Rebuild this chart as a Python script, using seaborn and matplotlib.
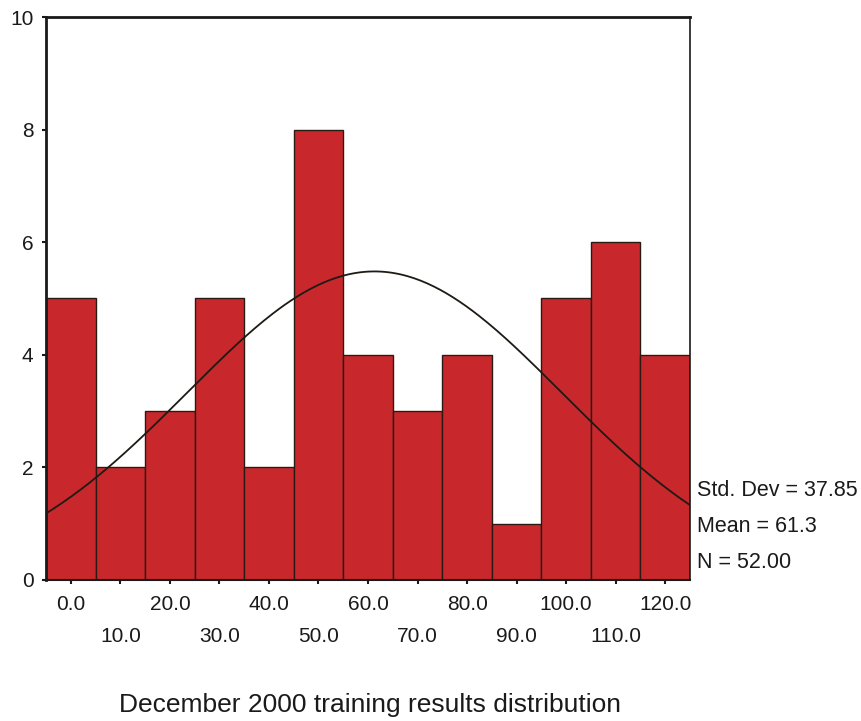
import numpy as np
import pandas as pd
import matplotlib
matplotlib.use("Agg")
import matplotlib.pyplot as plt
import seaborn as sns

# bin centres and counts
bin_centres = [0, 10, 20, 30, 40, 50, 60, 70, 80, 90, 100, 110, 120]
counts = [5, 2, 3, 5, 2, 8, 4, 3, 4, 1, 5, 6, 4]
bin_width = 10
std_dev = 37.85
mean = 61.3
n_total = 52

sns.set_style("white")
plt.rcParams['font.family'] = ['Liberation Sans', 'DejaVu Sans']

fig = plt.figure(figsize=(8.62, 7.21), dpi=100)
ax = fig.add_axes([0.0534, 0.1956, 0.7471, 0.7808])

df = pd.DataFrame({"score": bin_centres, "count": counts})
edges = [c - bin_width / 2 for c in bin_centres] + [bin_centres[-1] + bin_width / 2]
sns.histplot(data=df, x="score", weights="count", bins=edges, ax=ax,
             color="#c8282c", edgecolor="#2a1a14", linewidth=1.0, alpha=1.0)

# fitted normal curve, scaled to counts
xs = np.linspace(edges[0], edges[-1], 300)
ys = n_total * bin_width / (std_dev * np.sqrt(2 * np.pi)) * np.exp(-0.5 * ((xs - mean) / std_dev) ** 2)
sns.lineplot(x=xs, y=ys, ax=ax, color="#1e1a14", linewidth=1.3)

ax.set_xlim(edges[0], edges[-1])
ax.set_ylim(0, 10)
ax.set_yticks([0, 2, 4, 6, 8, 10])
ax.set_yticklabels(["0", "2", "4", "6", "8", "10"], fontsize=15)

major = bin_centres[0::2]
minor = bin_centres[1::2]
ax.set_xticks(major)
ax.set_xticklabels([f"{v:.1f}" for v in major], fontsize=15)
ax.set_xticks(minor, minor=True)
ax.set_xticklabels([f"{v:.1f}" for v in minor], minor=True, fontsize=15)
ax.tick_params(axis='x', which='major', length=3, width=1.5, pad=8, direction='out', bottom=True, colors="#1a1a1a")
ax.tick_params(axis='x', which='minor', length=3, width=1.5, pad=31, direction='out', bottom=True, colors="#1a1a1a")
ax.tick_params(axis='y', length=3, width=1.5, pad=6, direction='out', left=True, colors="#1a1a1a")
ax.set_xlabel("")
ax.set_ylabel("")

for side in ['left', 'right', 'top', 'bottom']:
    ax.spines[side].set_color("#1a1a1a")
ax.spines['left'].set_linewidth(2)
ax.spines['top'].set_linewidth(2)
ax.spines['right'].set_linewidth(1.2)
ax.spines['bottom'].set_linewidth(1.5)

stats = [f"Std. Dev = {std_dev:.2f}", f"Mean = {mean:.1f}", f"N = {n_total:.2f}"]
for i, s in enumerate(stats):
    fig.text(697 / 862, 1 - (490 + i * 36) / 721, s, fontsize=15.5, va='center', ha='left', color="#1a1a1a")

fig.text(370 / 862, 1 - 705 / 721, "December 2000 training results distribution",
         fontsize=19, ha='center', va='center', color="#1a1a1a")

fig.savefig("out.png", dpi=100)
